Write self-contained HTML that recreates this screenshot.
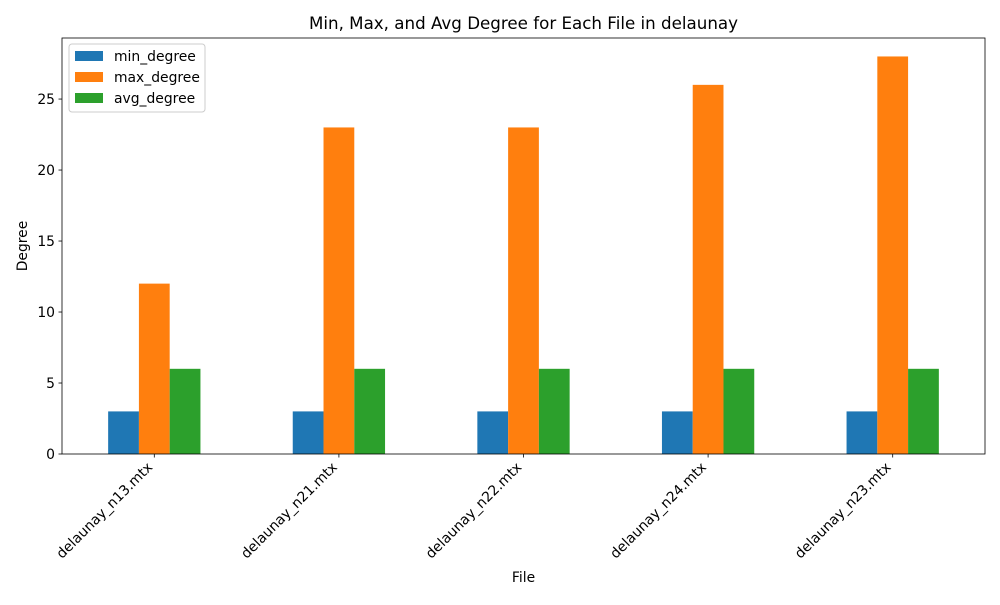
<!DOCTYPE html>
<html><head><meta charset="utf-8"><style>
body{margin:0;background:#fff;font-family:"Liberation Sans","DejaVu Sans",sans-serif;}
svg text{font-family:"DejaVu Sans","Liberation Sans",sans-serif;}
</style></head><body>
<svg id="chart" width="1000" height="600" xmlns="http://www.w3.org/2000/svg">
<rect width="1000" height="600" fill="#fff"/>
<text x="523.5" y="29" font-size="16.7" text-anchor="middle">Min, Max, and Avg Degree for Each File in delaunay</text>
<g id="plot"></g>
<text x="523.5" y="582" font-size="13.9" text-anchor="middle">File</text>
<text transform="translate(27,246) rotate(-90)" font-size="13.9" text-anchor="middle">Degree</text>
</svg>
<script>
const categories=["delaunay_n13.mtx","delaunay_n21.mtx","delaunay_n22.mtx","delaunay_n24.mtx","delaunay_n23.mtx"];
const seriesNames=["min_degree","max_degree","avg_degree"];
const minDegree=[3,3,3,3,3];
const maxDegree=[12,23,23,26,28];
const avgDegree=[6,6,6,6,6];
const yTicks=[0,5,10,15,20,25];
const colors=["#1f77b4","#ff7f0e","#2ca02c"];
const series=[minDegree,maxDegree,avgDegree];
const L=62,R=985,T=38,B=454;
const yMax=29.3;
const ns="http://www.w3.org/2000/svg";
const g=document.getElementById('plot');
const xs=v=>L+(v+0.5)*(R-L)/categories.length;
const ys=v=>B-v*(B-T)/yMax;
function mk(t,a){const e=document.createElementNS(ns,t);for(const k in a)e.setAttribute(k,a[k]);g.appendChild(e);return e;}
const bw=0.5/3;
series.forEach((s,si)=>{s.forEach((v,i)=>{
 const x0=xs(i-0.25+si*bw),x1=xs(i-0.25+(si+1)*bw);
 const r=mk('rect',{x:x0,y:ys(v),width:x1-x0,height:ys(0)-ys(v),fill:colors[si]});
 
 
});});
yTicks.forEach(t=>{
 const y=ys(t);
 mk('line',{x1:L-3.5,x2:L,y1:y,y2:y,stroke:'#000','stroke-width':0.8});
 const tx=mk('text',{x:L-7,y:y+5,'font-size':13.9,'text-anchor':'end'});tx.textContent=t;
 
 
});
categories.forEach((c,i)=>{
 const x=xs(i);
 mk('line',{x1:x,x2:x,y1:B,y2:B+3.5,stroke:'#000','stroke-width':0.8});
 const tx=mk('text',{transform:`translate(${x-1},${B+14}) rotate(-45)`,'font-size':13.9,'text-anchor':'end'});tx.textContent=c;
 
 
});
mk('rect',{x:L,y:T,width:R-L,height:B-T,fill:'none',stroke:'#000','stroke-width':0.8});
const lg=mk('rect',{x:69,y:44,width:136,height:68,fill:'#fff',stroke:'#ccc',rx:3});


seriesNames.forEach((n,i)=>{
 const y=51+i*21;
 mk('rect',{x:75,y:y,width:28,height:10,fill:colors[i]});
 const tx=mk('text',{x:114,y:y+10,'font-size':13.9});tx.textContent=n;
 
 
});
</script>
</body></html>
